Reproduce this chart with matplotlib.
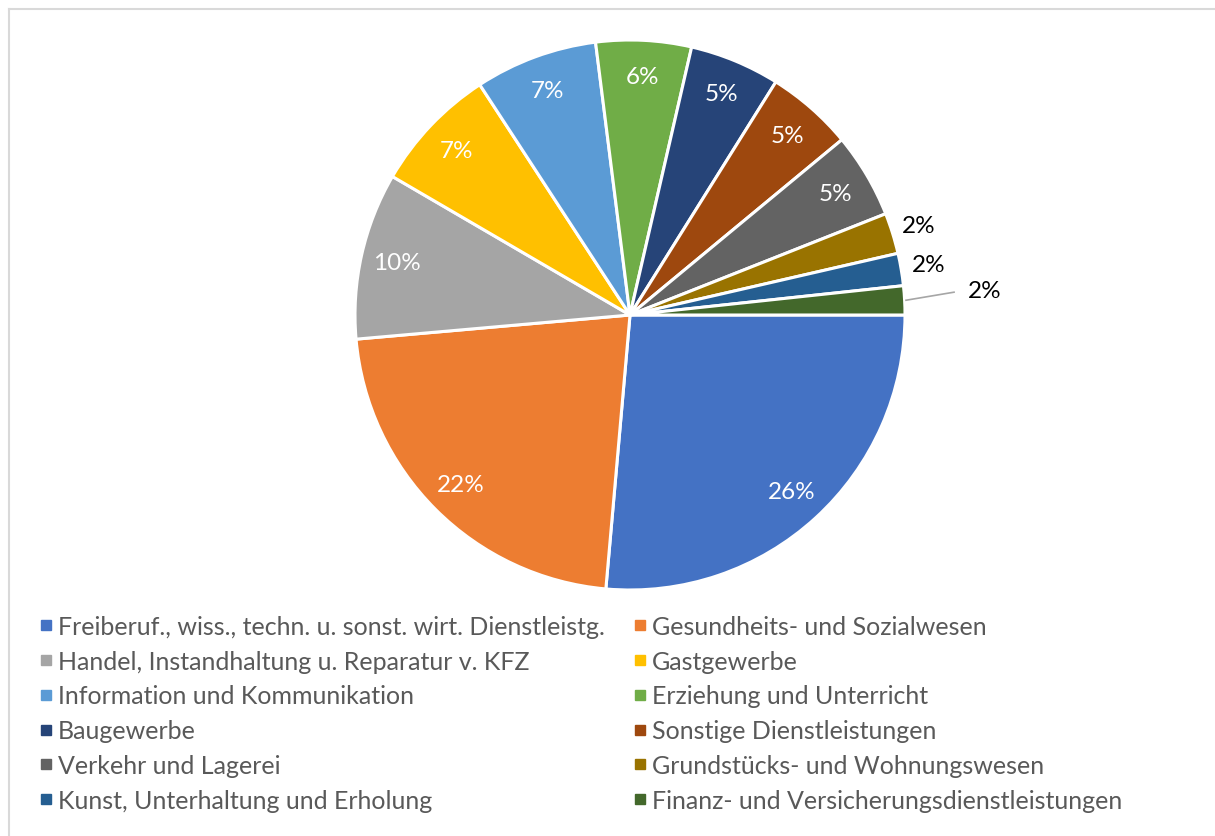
import numpy as np
import matplotlib.pyplot as plt
from matplotlib.lines import Line2D

plt.rcParams['font.family'] = ['Lato', 'DejaVu Sans']

branchen = ['Freiberuf., wiss., techn. u. sonst. wirt. Dienstleistg.',
            'Gesundheits- und Sozialwesen',
            'Handel, Instandhaltung u. Reparatur v. KFZ',
            'Gastgewerbe',
            'Information und Kommunikation',
            'Erziehung und Unterricht',
            'Baugewerbe',
            'Sonstige Dienstleistungen',
            'Verkehr und Lagerei',
            'Grundstücks- und Wohnungswesen',
            'Kunst, Unterhaltung und Erholung',
            'Finanz- und Versicherungsdienstleistungen']
anteile = [26.4, 22.2, 9.8, 7.4, 7.2, 5.6, 5.3, 5.1, 5.0, 2.4, 1.9, 1.7]
farben = ['#4472C4', '#ED7D31', '#A5A5A5', '#FFC000', '#5B9BD5', '#70AD47',
          '#264478', '#9E480E', '#636363', '#997300', '#255E91', '#43682B']

W, H = 1215, 837
fig = plt.figure(figsize=(W / 100, H / 100), dpi=100)

# pie area: centre (630, 316), radius 275 px
cx, cy, r = 630, 316, 275
ax = fig.add_axes([(cx - r) / W, (H - cy - r) / H, 2 * r / W, 2 * r / H])
wedges, _ = ax.pie(anteile, colors=farben, startangle=0, counterclock=False,
                   wedgeprops=dict(edgecolor='white', linewidth=2.2))
ax.set_xlim(-1, 1)
ax.set_ylim(-1, 1)

total = sum(anteile)
for i, w in enumerate(wedges):
    mid = np.deg2rad((w.theta1 + w.theta2) / 2)
    txt = '%.0f%%' % (anteile[i] / total * 100)
    if anteile[i] >= 3:
        d = 0.87
        ax.text(d * np.cos(mid), d * np.sin(mid), txt, color='white',
                ha='center', va='center', fontsize=17.5)
    elif i < len(wedges) - 1:
        d = 1.1
        ax.text(d * np.cos(mid), d * np.sin(mid), txt, color='black',
                ha='center', va='center', fontsize=17.5)
    else:
        # label with leader line
        ax.plot([1.005 * np.cos(mid), 1.18 * np.cos(mid)],
                [1.005 * np.sin(mid), 1.18 * np.sin(mid) + 0.02],
                color='#A6A6A6', lw=1.2, clip_on=False)
        ax.text(1.29 * np.cos(mid), 1.29 * np.sin(mid) + 0.02, txt,
                color='black', ha='center', va='center', fontsize=17.5)

# legend, row-wise order in two columns
handles = [Line2D([], [], marker='s', ls='', color=c, markersize=7.5) for c in farben]
order = list(range(0, 12, 2)) + list(range(1, 12, 2))
fig.legend([handles[i] for i in order], [branchen[i] for i in order],
           ncol=2, loc='upper left', bbox_to_anchor=(30 / W, 1 - 606 / H),
           frameon=False, fontsize=18, labelcolor='#595959',
           handlelength=0.45, handletextpad=0.25, columnspacing=1.2,
           labelspacing=0.47, borderaxespad=0)

# chart border
fig.add_artist(Line2D([9 / W, 1214 / W], [1 - 10 / H, 1 - 10 / H],
                      color='#D9D9D9', lw=1.5, transform=fig.transFigure))
fig.add_artist(Line2D([9 / W, 9 / W], [0, 1 - 10 / H],
                      color='#D9D9D9', lw=1.5, transform=fig.transFigure))

fig.savefig('out.png', dpi=100)
